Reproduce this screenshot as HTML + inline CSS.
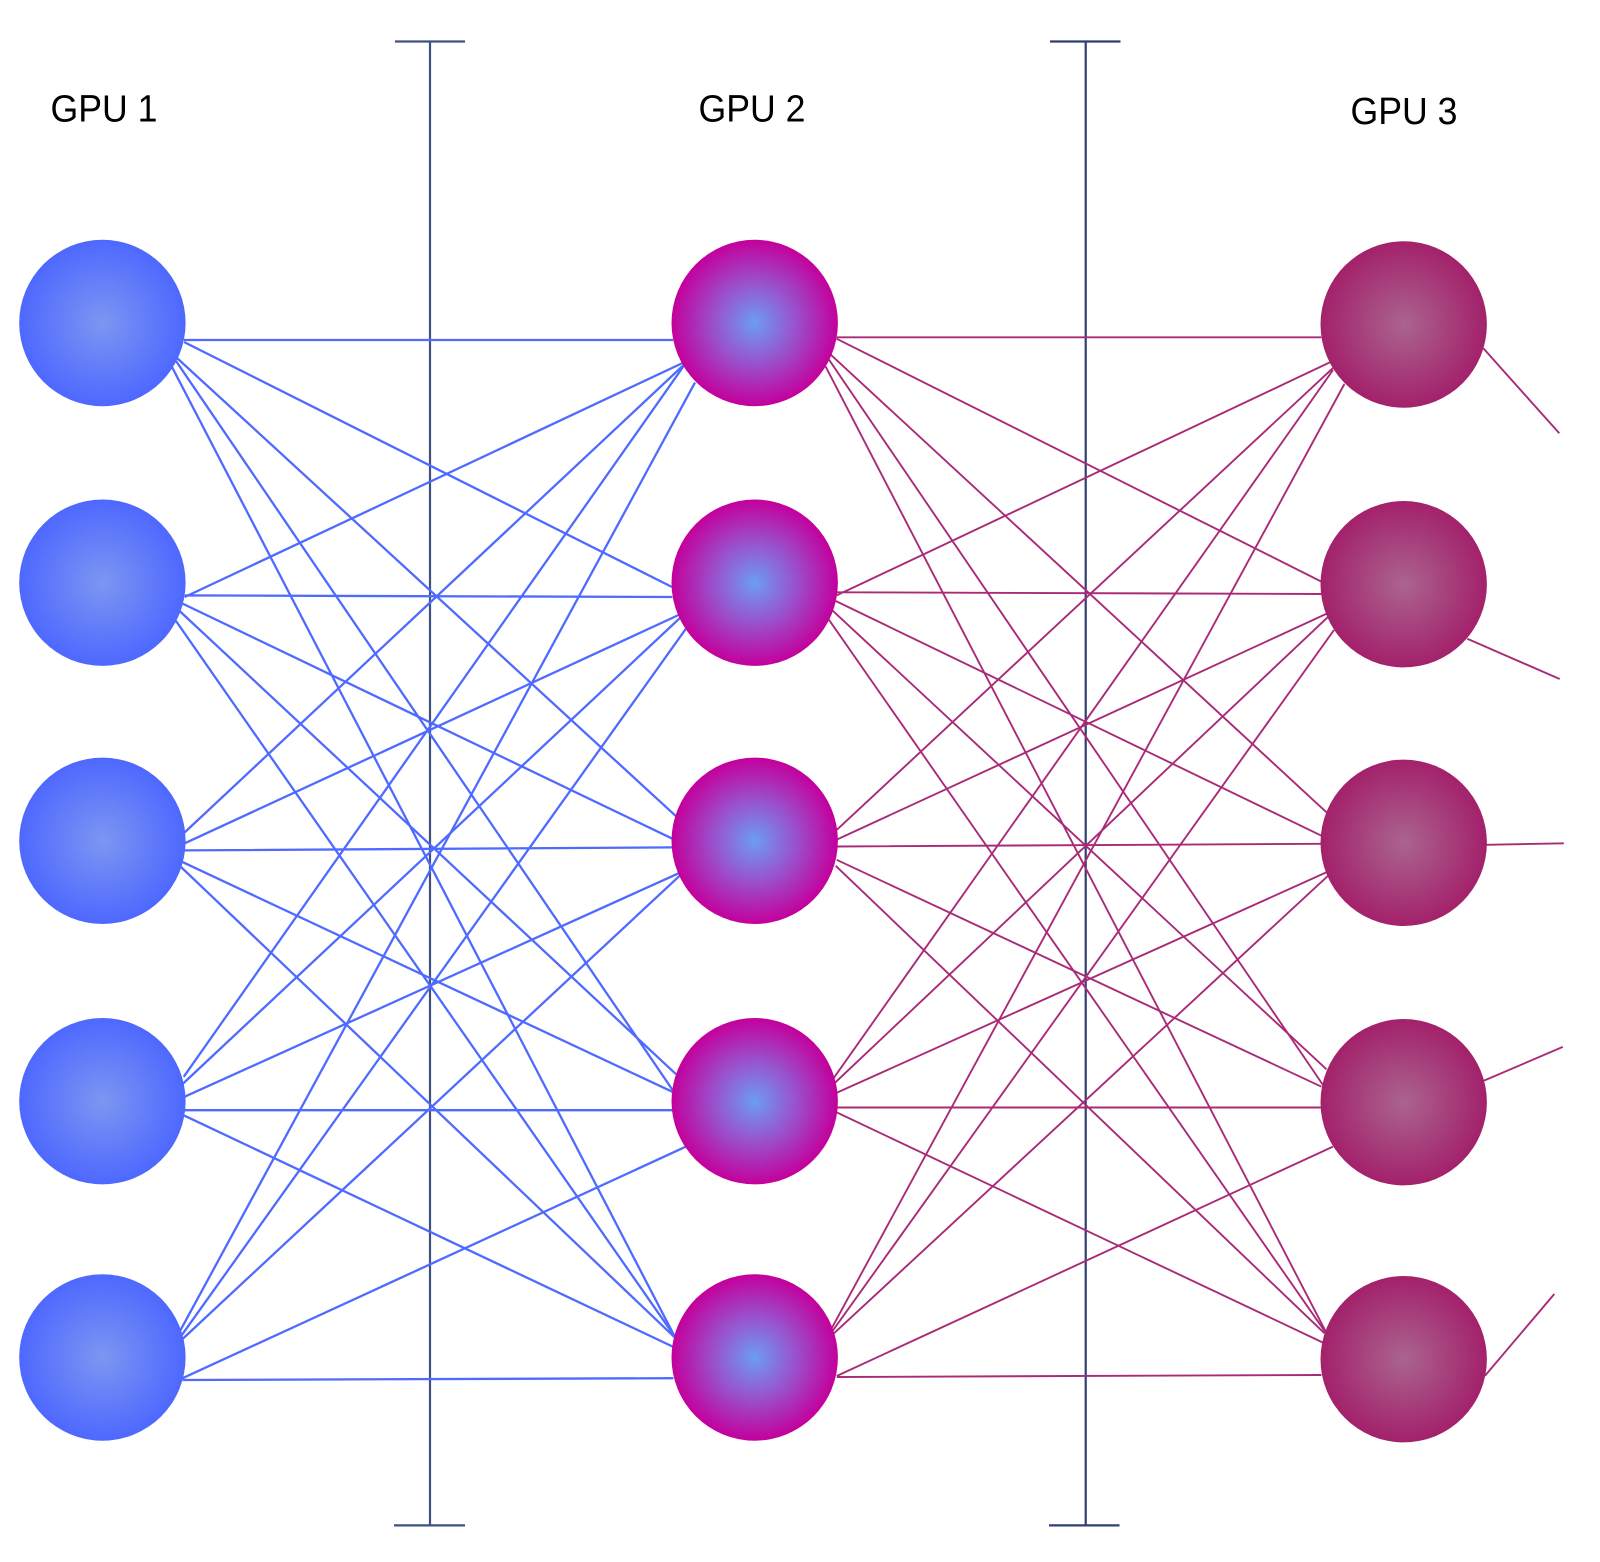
<!DOCTYPE html>
<html><head><meta charset="utf-8"><style>html,body{margin:0;padding:0;background:#fff}svg{display:block}text{font-family:"Liberation Sans",sans-serif;font-size:38px;fill:#000}</style></head><body>
<svg width="1600" height="1562" viewBox="0 0 1600 1562" xmlns="http://www.w3.org/2000/svg">
<defs>
<radialGradient id="b"><stop offset="0" stop-color="#7c96f2"/><stop offset="1" stop-color="#4e68ff"/></radialGradient>
<radialGradient id="m"><stop offset="0" stop-color="#6c9cf4"/><stop offset="0.5" stop-color="#9a50cb"/><stop offset="1" stop-color="#c4009c"/></radialGradient>
<radialGradient id="d"><stop offset="0" stop-color="#aa648f"/><stop offset="1" stop-color="#a3216b"/></radialGradient>
</defs>
<g stroke="#3f5180" stroke-width="2.2" fill="none">
<path d="M430 41.5V1525.4M395 41.5H465M394 1525.4H465"/>
<path d="M1085.7 41.5V1525.4M1050 41.5H1120.5M1049 1525.4H1119.5" stroke="#2f3f72"/>
</g>
<g stroke="#4f6bff" stroke-width="2.3" fill="none">
<path d="M184 340L673 340M184 342L672 587M177 358L676 816.2M176 361L672.5 1089.9M172 367L674.5 1336.2"/>
<path d="M184.7 597L682.6 363M184.7 595.4L672.4 597M182.6 603.6L672.4 838.7M179.6 611L676 1074.2M176 621L674.5 1336.2"/>
<path d="M184.7 832.4L683.7 365M184.7 843.3L678.6 615M184.7 850.4L672.4 847.4M182.6 862.1L672.4 1091.8M181 867L674.5 1337.2"/>
<path d="M183.7 1076.8L683.7 366M182.6 1084L681 617M184.7 1096.7L678.6 873.3M184.7 1110.2L672.4 1110.2M183.7 1115.3L673.5 1347"/>
<path d="M180 1331.1L695 382.6M181 1336.2L686 628.6M182 1339.5L679.6 875.8M182.6 1378.2L686 1146.6M182.6 1380L673.5 1378.2"/>
</g>
<g stroke="#a92b77" stroke-width="1.9" fill="none">
<path d="M836.7 337.3L1321.4 337.3M836.7 338.8L1321.4 581.6M830.6 354.6L1326.5 812.3M829 359.7L1323 1085M825.5 366.3L1325.5 1331.1"/>
<path d="M836.7 595.4L1330.6 362M836.7 592.3L1321.4 594M835.7 601L1321.4 835.7M831.6 609.7L1326.5 1069.3M828 618.4L1325.5 1332.3"/>
<path d="M836.7 829.9L1333 368M836.7 839.6L1326.5 613.8M836.7 846.5L1321.4 843.8M836.7 859.8L1321.4 1086.7M835.7 865.8L1324.5 1333.3"/>
<path d="M833 1079.1L1333 370M834.7 1083L1329 616M836.7 1092.8L1326.5 872.3M836.7 1107.5L1321.4 1107.5M836.7 1112.4L1323 1342.6"/>
<path d="M831.6 1328.4L1344.4 384M831.6 1332.3L1334 630M833 1334.2L1328 875.8M836.7 1376L1333 1146.6M836.7 1377L1321.4 1375"/>
<path d="M1483.3 348.3L1559.3 433.3M1467.3 638.8L1559.7 679M1486 844.8L1563.8 843.3M1483.7 1080.8L1562.8 1046.9M1485 1375.7L1554.3 1294"/>
</g>
<g fill="url(#b)">
<circle cx="102.4" cy="323" r="83.2"/><circle cx="102.4" cy="582.7" r="83.2"/><circle cx="102.4" cy="840.8" r="83.2"/><circle cx="102.4" cy="1101.2" r="83.2"/><circle cx="102.4" cy="1357.5" r="83.2"/>
</g>
<g fill="url(#m)">
<circle cx="754.7" cy="323" r="83.2"/><circle cx="754.7" cy="582.7" r="83.2"/><circle cx="754.7" cy="840.8" r="83.2"/><circle cx="754.7" cy="1101.2" r="83.2"/><circle cx="754.7" cy="1357.5" r="83.2"/>
</g>
<g fill="url(#d)">
<circle cx="1403.7" cy="324.5" r="83.2"/><circle cx="1403.7" cy="584.2" r="83.2"/><circle cx="1403.7" cy="842.8" r="83.2"/><circle cx="1403.7" cy="1102.2" r="83.2"/><circle cx="1403.7" cy="1359.2" r="83.2"/>
</g>
<text x="50.5" y="121.5" textLength="107" lengthAdjust="spacingAndGlyphs">GPU 1</text>
<text x="698.5" y="121.5" textLength="107" lengthAdjust="spacingAndGlyphs">GPU 2</text>
<text x="1350.5" y="124" textLength="107" lengthAdjust="spacingAndGlyphs">GPU 3</text>
</svg>
</body></html>
